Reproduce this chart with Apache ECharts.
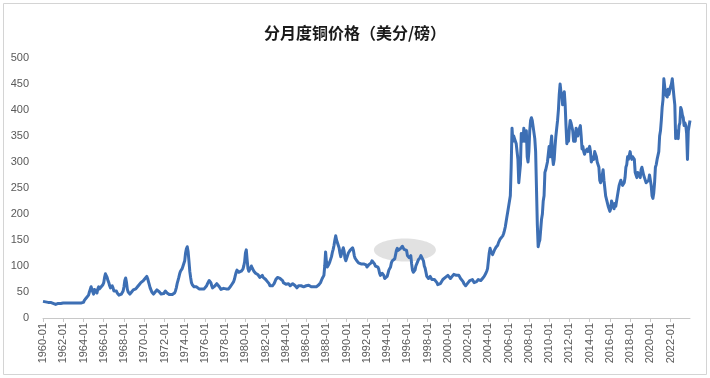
<!DOCTYPE html>
<html>
<head>
<meta charset="utf-8">
<script src="https://cdn.jsdelivr.net/npm/echarts@6/dist/echarts.min.js"></script>
<style>
  html, body { margin: 0; padding: 0; background: #fff; }
  #chart { width: 710px; height: 378px; }
</style>
</head>
<body>
<div id="chart"></div>
<script>
// monthly copper price, US cents per pound, one row per year (Jan..Dec)
const price1960s = [
  32, 32, 31, 31, 31, 31, 30, 30, 30, 30, 29, 29,
  28, 27, 26, 26, 26, 27, 28, 28, 28, 28, 28, 28,
  29, 29, 29, 29, 29, 29, 29, 29, 29, 29, 29, 29,
  29, 29, 29, 29, 29, 29, 29, 29, 29, 29, 29, 29,
  30, 34, 37, 38, 38, 40, 44, 50, 55, 60, 58, 50,
  46, 55, 58, 52, 48, 56, 60, 56, 58, 60, 62, 64,
  68, 78, 85, 84, 78, 72, 68, 62, 58, 60, 62, 58,
  52, 54, 55, 52, 48, 46, 44, 44, 45, 46, 48, 52,
  60, 72, 77, 68, 55, 50, 47, 46, 48, 50, 52, 54,
  52, 54, 56, 58, 60, 62, 64, 66, 68, 70, 70, 72
];
const price1970s = [
  74, 76, 78, 80, 76, 70, 64, 58, 54, 50, 48, 46,
  48, 50, 52, 54, 56, 52, 50, 48, 46, 45, 46, 47,
  50, 52, 50, 48, 46, 45, 45, 46, 46, 45, 44, 45,
  48, 52, 58, 66, 72, 78, 85, 90, 92, 95, 100, 98,
  110, 125, 133, 137, 128, 110, 90, 78, 68, 64, 62, 60,
  58, 58, 60, 62, 58, 56, 56, 57, 56, 56, 55, 56,
  57, 58, 62, 66, 68, 72, 70, 68, 62, 58, 58, 60,
  62, 64, 66, 68, 64, 60, 57, 55, 55, 56, 57, 58,
  56, 56, 56, 55, 56, 58, 60, 62, 65, 68, 70, 75,
  82, 88, 92, 90, 88, 86, 88, 90, 92, 94, 100, 108
];
const price1980s = [
  125, 131, 112, 95, 90, 92, 96, 100, 96, 94, 90, 88,
  86, 84, 85, 83, 80, 78, 78, 80, 82, 78, 76, 75,
  74, 72, 70, 68, 66, 62, 60, 60, 62, 64, 66, 70,
  74, 76, 78, 80, 78, 76, 77, 76, 72, 68, 66, 66,
  65, 64, 66, 66, 64, 62, 62, 64, 66, 68, 64, 62,
  60, 58, 60, 62, 62, 64, 62, 60, 60, 60, 62, 61,
  62, 62, 62, 63, 62, 60, 60, 60, 60, 60, 60, 60,
  60, 60, 62, 64, 66, 68, 72, 76, 78, 82, 100, 127,
  108, 98, 100, 104, 108, 110, 118, 126, 132, 140, 150, 158,
  150, 148, 140, 135, 125, 118, 120, 130, 135, 128, 115, 110
];
const price1990s = [
  108, 112, 125, 128, 130, 128, 132, 135, 130, 120, 115, 112,
  110, 108, 106, 108, 104, 104, 105, 104, 104, 106, 105, 102,
  98, 100, 102, 104, 104, 106, 110, 112, 108, 104, 100, 100,
  100, 98, 94, 86, 82, 84, 86, 88, 82, 76, 74, 76,
  80, 86, 92, 94, 98, 106, 110, 110, 112, 114, 122, 130,
  134, 130, 128, 132, 134, 136, 138, 137, 132, 130, 134, 130,
  120, 118, 116, 118, 120, 104, 92, 88, 90, 92, 100, 102,
  108, 112, 114, 116, 120, 122, 118, 110, 100, 96, 88, 80,
  78, 76, 78, 80, 78, 74, 74, 74, 74, 72, 72, 68,
  64, 62, 62, 66, 68, 66, 74, 74, 76, 78, 78, 80
];
const price2000s = [
  82, 80, 80, 76, 78, 80, 82, 84, 86, 84, 82, 84,
  80, 82, 80, 76, 76, 74, 70, 66, 64, 62, 62, 64,
  68, 70, 72, 72, 72, 74, 72, 68, 68, 68, 70, 72,
  74, 76, 74, 72, 74, 76, 78, 80, 82, 86, 90, 95,
  110, 125, 134, 128, 125, 122, 126, 130, 132, 136, 138, 140,
  145, 148, 152, 155, 150, 158, 162, 168, 175, 185, 195, 205,
  215, 225, 235, 290, 365, 340, 350, 345, 340, 335, 320, 305,
  260, 262, 295, 355, 350, 340, 365, 340, 340, 360, 310, 300,
  320, 360, 380, 385, 380, 378, 382, 345, 320, 250, 180, 137,
  145, 150, 170, 190, 200, 225, 235, 280, 285, 285, 300, 315
];
const price2010s = [
  330, 310, 335, 350, 310, 295, 305, 330, 350, 365, 380, 400,
  430, 450, 435, 430, 410, 410, 435, 410, 370, 335, 345, 340,
  365, 380, 375, 375, 360, 340, 345, 340, 365, 365, 350, 360,
  365, 370, 350, 325, 330, 320, 315, 320, 320, 325, 320, 325,
  330, 320, 300, 300, 310, 305, 320, 315, 310, 300, 300, 290,
  265, 260, 265, 275, 285, 265, 250, 235, 235, 235, 215, 210,
  205, 210, 225, 220, 215, 210, 220, 215, 215, 215, 245, 255,
  260, 265, 265, 255, 255, 260, 270, 290, 295, 310, 305, 305,
  320, 310, 305, 310, 310, 305, 280, 275, 270, 280, 280, 275,
  270, 285, 290, 290, 275, 270, 270, 260, 260, 260, 265, 275
];
const price2020s = [
  275, 255, 235, 230, 240, 260, 290, 295, 305, 305, 320, 350,
  360, 380, 405, 420, 460, 445, 430, 430, 425, 440, 430, 430,
  445, 450, 460, 460, 425, 410, 345, 360, 350, 345, 370, 375,
  405, 400, 390, 385, 370, 375, 370, 355, 305, 360, 370, 380
];

const prices = [].concat(price1960s, price1970s, price1980s, price1990s,
                         price2000s, price2010s, price2020s);

// month labels 1960-01 ...
const months = [];
for (let i = 0; i < prices.length; i++) {
  let y = 1960 + Math.floor(i / 12);
  let m = (i % 12) + 1;
  months.push(y + '-' + (m < 10 ? '0' + m : m));
}

const yTicks = {min: 0, max: 500, step: 50};
const highlightAt = ['1995-10', 131];   // grey ellipse marker

const labelFont = 'Liberation Sans, Arial, sans-serif';
const lineColor = '#3d6fb4';

let chart = echarts.init(document.getElementById('chart'));

chart.setOption({
  backgroundColor: '#fff',
  animation: false,
  title: {
    text: '分月度铜价格（美分/磅）',
    left: 'center',
    top: 20,
    textStyle: {
      fontFamily: 'Noto Sans CJK SC',
      fontSize: 16,
      fontWeight: 'bold',
      color: '#1a1a1a'
    }
  },
  grid: {left: 43, right: 20, top: 58, bottom: 60},
  xAxis: {
    type: 'category',
    data: months,
    boundaryGap: false,
    axisLine: {lineStyle: {color: '#c8c8c8', width: 1}},
    axisTick: {show: true, interval: 23, length: 4, lineStyle: {color: '#c8c8c8'}},
    axisLabel: {
      interval: 23,
      rotate: 90,
      margin: 5,
      fontSize: 11,
      fontFamily: labelFont,
      color: '#595959'
    },
    splitLine: {show: false}
  },
  yAxis: {
    type: 'value',
    min: yTicks.min,
    max: yTicks.max,
    interval: yTicks.step,
    axisLine: {show: false},
    axisTick: {show: false},
    splitLine: {show: false},
    axisLabel: {
      margin: 14,
      fontSize: 11,
      fontFamily: labelFont,
      color: '#595959'
    }
  },
  series: [{
    type: 'line',
    data: prices,
    showSymbol: false,
    symbol: 'none',
    z: 5,
    lineStyle: {color: lineColor, width: 3, join: 'round'}
  }]
});

// chart area frame + highlight ellipse
let c = chart.convertToPixel({gridIndex: 0}, highlightAt);
chart.setOption({
  graphic: [
    {
      type: 'rect',
      shape: {x: 3.5, y: 3.5, width: 703, height: 371},
      style: {fill: 'none', stroke: '#d4d4d4', lineWidth: 1},
      silent: true
    },
    {
      type: 'ellipse',
      shape: {cx: c[0], cy: c[1], rx: 31, ry: 11.5},
      style: {fill: 'rgba(200,200,200,0.55)'},
      z: 1,
      silent: true
    }
  ]
});
</script>
</body>
</html>
